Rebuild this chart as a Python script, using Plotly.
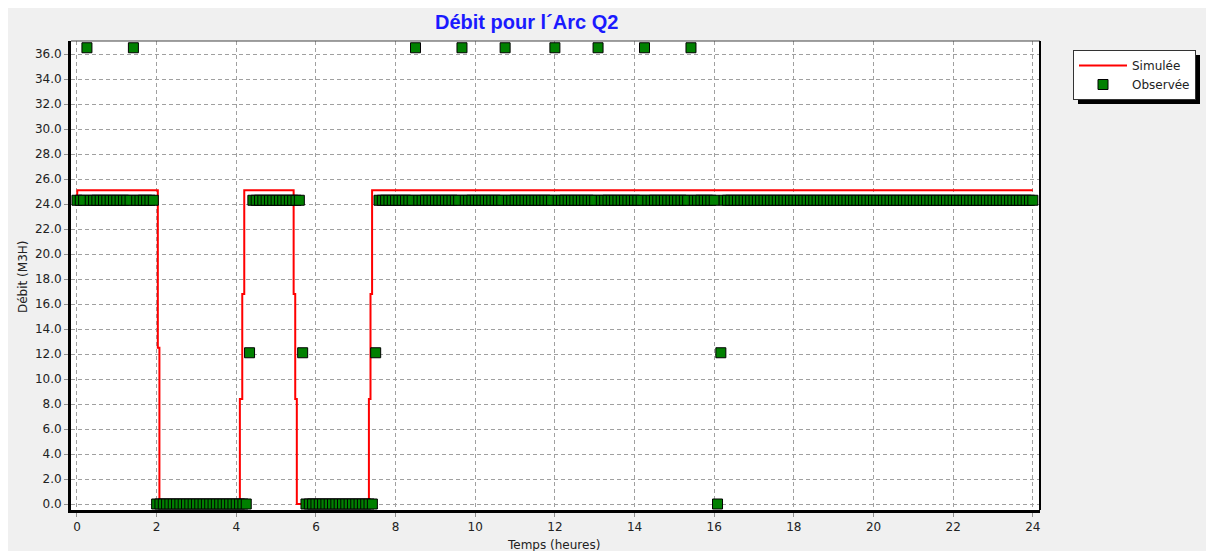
import plotly.graph_objects as go

# Débit simulé (points du tracé en escalier)
temps_sim = [0.0, 0.01, 2.03, 2.03, 2.07, 2.07, 4.09, 4.09, 4.15, 4.15, 4.2, 4.2,
             5.44, 5.44, 5.48, 5.48, 5.52, 5.52, 7.33, 7.33, 7.37, 7.37, 7.41, 7.41, 24.0]
debit_sim = [24.4, 25.1, 25.1, 12.5, 12.5, 0.0, 0.0, 8.4, 8.4, 16.8, 16.8, 25.1,
             25.1, 16.8, 16.8, 8.4, 8.4, 0.0, 0.0, 8.4, 8.4, 16.8, 16.8, 25.1, 25.1]

# Débit observé : un relevé toutes les 5 minutes, une ligne par heure
debit_obs = [
    24.3, 24.3, 24.3, 36.5, 24.3, 24.3, 24.3, 24.3, 24.3, 24.3, 24.3, 24.3,  # 0 h
    24.3, 24.3, 24.3, 24.3, 24.3, 36.5, 24.3, 24.3, 24.3, 24.3, 24.3, 24.3,  # 1 h
    0.0, 0.0, 0.0, 0.0, 0.0, 0.0, 0.0, 0.0, 0.0, 0.0, 0.0, 0.0,              # 2 h
    0.0, 0.0, 0.0, 0.0, 0.0, 0.0, 0.0, 0.0, 0.0, 0.0, 0.0, 0.0,              # 3 h
    0.0, 0.0, 0.0, 0.0, 12.1, 24.3, 24.3, 24.3, 24.3, 24.3, 24.3, 24.3,      # 4 h
    24.3, 24.3, 24.3, 24.3, 24.3, 24.3, 24.3, 24.3, 12.1, 0.0, 0.0, 0.0,     # 5 h
    0.0, 0.0, 0.0, 0.0, 0.0, 0.0, 0.0, 0.0, 0.0, 0.0, 0.0, 0.0,              # 6 h
    0.0, 0.0, 0.0, 0.0, 0.0, 0.0, 12.1, 24.3, 24.3, 24.3, 24.3, 24.3,        # 7 h
    24.3, 24.3, 24.3, 24.3, 24.3, 24.3, 36.5, 24.3, 24.3, 24.3, 24.3, 24.3,  # 8 h
    24.3, 24.3, 24.3, 24.3, 24.3, 24.3, 24.3, 24.3, 36.5, 24.3, 24.3, 24.3,  # 9 h
    24.3, 24.3, 24.3, 24.3, 24.3, 24.3, 24.3, 24.3, 24.3, 36.5, 24.3, 24.3,  # 10 h
    24.3, 24.3, 24.3, 24.3, 24.3, 24.3, 24.3, 24.3, 24.3, 24.3, 24.3, 24.3,  # 11 h
    36.5, 24.3, 24.3, 24.3, 24.3, 24.3, 24.3, 24.3, 24.3, 24.3, 24.3, 24.3,  # 12 h
    24.3, 36.5, 24.3, 24.3, 24.3, 24.3, 24.3, 24.3, 24.3, 24.3, 24.3, 24.3,  # 13 h
    24.3, 24.3, 24.3, 36.5, 24.3, 24.3, 24.3, 24.3, 24.3, 24.3, 24.3, 24.3,  # 14 h
    24.3, 24.3, 24.3, 24.3, 24.3, 36.5, 24.3, 24.3, 24.3, 24.3, 24.3, 24.3,  # 15 h
    24.3, 0.0, 12.1, 24.3, 24.3, 24.3, 24.3, 24.3, 24.3, 24.3, 24.3, 24.3,   # 16 h
    24.3, 24.3, 24.3, 24.3, 24.3, 24.3, 24.3, 24.3, 24.3, 24.3, 24.3, 24.3,  # 17 h
    24.3, 24.3, 24.3, 24.3, 24.3, 24.3, 24.3, 24.3, 24.3, 24.3, 24.3, 24.3,  # 18 h
    24.3, 24.3, 24.3, 24.3, 24.3, 24.3, 24.3, 24.3, 24.3, 24.3, 24.3, 24.3,  # 19 h
    24.3, 24.3, 24.3, 24.3, 24.3, 24.3, 24.3, 24.3, 24.3, 24.3, 24.3, 24.3,  # 20 h
    24.3, 24.3, 24.3, 24.3, 24.3, 24.3, 24.3, 24.3, 24.3, 24.3, 24.3, 24.3,  # 21 h
    24.3, 24.3, 24.3, 24.3, 24.3, 24.3, 24.3, 24.3, 24.3, 24.3, 24.3, 24.3,  # 22 h
    24.3, 24.3, 24.3, 24.3, 24.3, 24.3, 24.3, 24.3, 24.3, 24.3, 24.3, 24.3,  # 23 h
    24.3,                                                                    # 24 h
]
temps_obs = [i / 12 for i in range(len(debit_obs))]

x_ticks = [0, 2, 4, 6, 8, 10, 12, 14, 16, 18, 20, 22, 24]
y_ticks = [0, 2, 4, 6, 8, 10, 12, 14, 16, 18, 20, 22, 24, 26, 28, 30, 32, 34, 36]

W, H = 1214, 551
OFF = 8  # marge du body de la page
L, R, T, B = 71, 1040, 41, 510  # zone de tracé, en pixels de la page


def px(x):
    return (x - L) / (R - L)


def py(y):
    return (B - y) / (B - T)


police = "DejaVu Sans"

fig = go.Figure()
fig.add_trace(go.Scatter(x=temps_sim, y=debit_sim, mode="lines", name="Simulée",
                         line=dict(color="#ff0000", width=2)))
fig.add_trace(go.Scatter(x=temps_obs, y=debit_obs, mode="markers", name="Observée",
                         marker=dict(symbol="square", size=10, color="#008000",
                                     line=dict(color="#000000", width=1))))

axe = dict(showgrid=True, gridcolor="#a0a0a0", gridwidth=1, griddash="4px,3px",
           zeroline=False, showline=True, linecolor="#000000", ticks="outside",
           ticklen=4, tickcolor="#909090", tickfont=dict(family=police, size=12, color="#222222"))

fig.update_xaxes(range=[-0.15, 24.18], tickvals=x_ticks, linewidth=3, **axe)
fig.update_yaxes(range=[-0.48, 37.04], tickvals=y_ticks, tickformat=".1f", linewidth=3, **axe)

fig.update_layout(
    width=W, height=H,
    margin=dict(l=L - OFF, r=W - (R - OFF), t=T - OFF, b=H - (B - OFF)),
    paper_bgcolor="#f0f0f0", plot_bgcolor="#ffffff",
    showlegend=True,
    legend=dict(x=px(1073), y=py(50), xanchor="left", yanchor="top",
                bgcolor="#ffffff", bordercolor="#333333", borderwidth=1,
                font=dict(family=police, size=12, color="#222222"),
                itemwidth=48, entrywidth=66, entrywidthmode="pixels",
                tracegroupgap=0),
    shapes=[
        # cadre haut et droit
        dict(type="line", xref="paper", yref="paper", x0=0, x1=1, y0=1, y1=1,
             line=dict(color="#444444", width=1)),
        dict(type="line", xref="paper", yref="paper", x0=1, x1=1, y0=0, y1=1,
             line=dict(color="#000000", width=2)),
        # ombre de la légende
        dict(type="rect", xref="paper", yref="paper", x0=px(1078), x1=px(1200), y0=py(104), y1=py(55),
             fillcolor="#000000", line=dict(width=0)),
    ],
    annotations=[
        dict(text="<b>Débit pour l´Arc Q2</b>", xref="paper", yref="paper", x=px(526), y=py(22),
             xanchor="center", yanchor="middle", showarrow=False,
             font=dict(family="Liberation Sans", size=20, color="#1a1aff")),
        dict(text="Débit (M3H)", xref="paper", yref="paper", x=px(23), y=py(277), textangle=-90,
             xanchor="center", yanchor="middle", showarrow=False,
             font=dict(family=police, size=12, color="#222222")),
        dict(text="Temps (heures)", xref="paper", yref="paper", x=px(553), y=py(545),
             xanchor="center", yanchor="middle", showarrow=False,
             font=dict(family=police, size=12, color="#222222")),
    ],
)

fig.write_html("out.html")
